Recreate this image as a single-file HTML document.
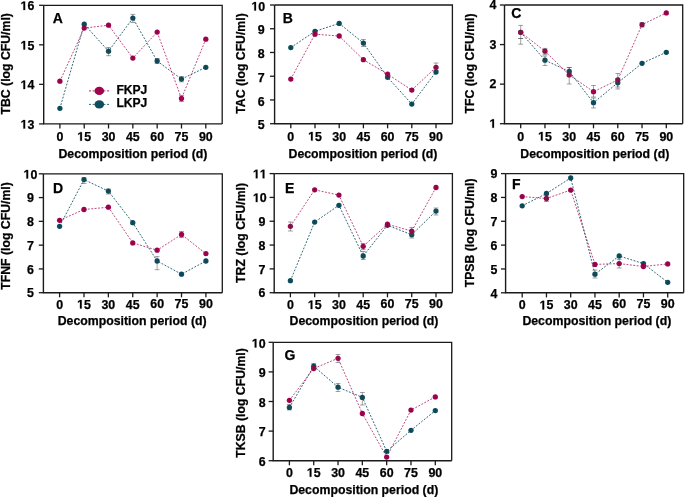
<!DOCTYPE html>
<html><head><meta charset="utf-8"><style>
html,body{margin:0;padding:0;background:#fff;}
body{width:685px;height:497px;overflow:hidden;}
svg{display:block;will-change:transform;}
text{font-family:"Liberation Sans",sans-serif;font-weight:bold;fill:#000;stroke:#000;stroke-width:0.25px;}
.g{fill:#000;stroke:#000;stroke-width:40;}
</style></head><body>
<svg width="685" height="497" viewBox="0 0 685 497">
<rect width="685" height="497" fill="#fff"/>
<g>
<path d="M43.7 5.3H222.2V123.9" fill="none" stroke="#1a1a1a" stroke-width="1.3"/>
<path d="M43.7 5.3V123.9H222.2" fill="none" stroke="#1a1a1a" stroke-width="1.4"/>
<line x1="39.1" y1="123.9" x2="43.7" y2="123.9" stroke="#1a1a1a" stroke-width="1.3"/>
<text x="20.51" y="128.6" font-size="12.4"> 3</text>
<path class="g" transform="translate(20.51 128.6) scale(0.006055 -0.006055)" d="M478 0V1170L140 959V1180L493 1409H759V0Z"/>
<line x1="39.1" y1="84.37" x2="43.7" y2="84.37" stroke="#1a1a1a" stroke-width="1.3"/>
<text x="20.51" y="89.07" font-size="12.4"> 4</text>
<path class="g" transform="translate(20.51 89.07) scale(0.006055 -0.006055)" d="M478 0V1170L140 959V1180L493 1409H759V0Z"/>
<line x1="39.1" y1="44.83" x2="43.7" y2="44.83" stroke="#1a1a1a" stroke-width="1.3"/>
<text x="20.51" y="49.53" font-size="12.4"> 5</text>
<path class="g" transform="translate(20.51 49.53) scale(0.006055 -0.006055)" d="M478 0V1170L140 959V1180L493 1409H759V0Z"/>
<line x1="39.1" y1="5.3" x2="43.7" y2="5.3" stroke="#1a1a1a" stroke-width="1.3"/>
<text x="20.51" y="10" font-size="12.4"> 6</text>
<path class="g" transform="translate(20.51 10) scale(0.006055 -0.006055)" d="M478 0V1170L140 959V1180L493 1409H759V0Z"/>
<line x1="59.9" y1="123.9" x2="59.9" y2="128.5" stroke="#1a1a1a" stroke-width="1.3"/>
<text x="56.45" y="140.7" font-size="12.4">0</text>
<line x1="84.22" y1="123.9" x2="84.22" y2="128.5" stroke="#1a1a1a" stroke-width="1.3"/>
<text x="77.32" y="140.7" font-size="12.4"> 5</text>
<path class="g" transform="translate(77.32 140.7) scale(0.006055 -0.006055)" d="M478 0V1170L140 959V1180L493 1409H759V0Z"/>
<line x1="108.53" y1="123.9" x2="108.53" y2="128.5" stroke="#1a1a1a" stroke-width="1.3"/>
<text x="101.64" y="140.7" font-size="12.4">30</text>
<line x1="132.85" y1="123.9" x2="132.85" y2="128.5" stroke="#1a1a1a" stroke-width="1.3"/>
<text x="125.95" y="140.7" font-size="12.4">45</text>
<line x1="157.17" y1="123.9" x2="157.17" y2="128.5" stroke="#1a1a1a" stroke-width="1.3"/>
<text x="150.27" y="140.7" font-size="12.4">60</text>
<line x1="181.48" y1="123.9" x2="181.48" y2="128.5" stroke="#1a1a1a" stroke-width="1.3"/>
<text x="174.59" y="140.7" font-size="12.4">75</text>
<line x1="205.8" y1="123.9" x2="205.8" y2="128.5" stroke="#1a1a1a" stroke-width="1.3"/>
<text x="198.9" y="140.7" font-size="12.4">90</text>
<text x="132.95" y="157.6" font-size="12.3" text-anchor="middle">Decomposition period (d)</text>
<text transform="translate(9.7 63.8) rotate(-90)" font-size="12.25" text-anchor="middle">TBC (log CFU/ml)</text>
<text x="52.65" y="22.9" font-size="14.0">A</text>
<polyline points="59.9,108.3 84.22,24.2 108.53,51.2 132.85,18.1 157.17,61 181.48,79.1 205.8,67.3" fill="none" stroke="#0c4e5f" stroke-width="1" stroke-dasharray="1.9 1.5" opacity="0.85"/>
<polyline points="59.9,81.2 84.22,28.1 108.53,25.2 132.85,58.1 157.17,32.1 181.48,98.5 205.8,39.2" fill="none" stroke="#a1044f" stroke-width="1" stroke-dasharray="1.9 1.5" opacity="0.72"/>
<circle cx="59.9" cy="108.3" r="2.65" fill="#0c4e5f"/>
<circle cx="84.22" cy="24.2" r="2.65" fill="#0c4e5f"/>
<circle cx="108.53" cy="51.2" r="2.65" fill="#0c4e5f"/>
<circle cx="132.85" cy="18.1" r="2.65" fill="#0c4e5f"/>
<circle cx="157.17" cy="61" r="2.65" fill="#0c4e5f"/>
<circle cx="181.48" cy="79.1" r="2.65" fill="#0c4e5f"/>
<circle cx="205.8" cy="67.3" r="2.65" fill="#0c4e5f"/>
<circle cx="59.9" cy="81.2" r="2.65" fill="#a1044f"/>
<circle cx="84.22" cy="28.1" r="2.65" fill="#a1044f"/>
<circle cx="108.53" cy="25.2" r="2.65" fill="#a1044f"/>
<circle cx="132.85" cy="58.1" r="2.65" fill="#a1044f"/>
<circle cx="157.17" cy="32.1" r="2.65" fill="#a1044f"/>
<circle cx="181.48" cy="98.5" r="2.65" fill="#a1044f"/>
<circle cx="205.8" cy="39.2" r="2.65" fill="#a1044f"/>
<path d="M59.9 106V110.6M84.22 21.9V26.5M108.53 48.9V53.5M132.85 15.8V20.4M157.17 58.7V63.3M181.48 76.8V81.4M205.8 65V69.6M59.9 78.9V83.5M84.22 25.8V30.4M108.53 22.9V27.5M132.85 55.8V60.4M157.17 29.8V34.4M181.48 96.2V100.8M205.8 36.9V41.5" stroke="#000" stroke-width="0.7" opacity="0.22" fill="none"/>
<path d="M108.53 47.5V55.7M106.13 47.5H110.93M106.13 55.7H110.93" stroke="#444" stroke-width="0.9" fill="none" opacity="0.55"/>
<path d="M132.85 14.4V22.5M130.45 14.4H135.25M130.45 22.5H135.25" stroke="#444" stroke-width="0.9" fill="none" opacity="0.55"/>
<path d="M181.48 76.5V81.8M179.08 76.5H183.88M179.08 81.8H183.88" stroke="#444" stroke-width="0.9" fill="none" opacity="0.55"/>
<path d="M181.48 95.5V101.5M179.08 95.5H183.88M179.08 101.5H183.88" stroke="#444" stroke-width="0.9" fill="none" opacity="0.55"/>
<path d="M157.17 58.5V63.5M154.77 58.5H159.57M154.77 63.5H159.57" stroke="#444" stroke-width="0.9" fill="none" opacity="0.55"/>
<line x1="89" y1="90.9" x2="110" y2="90.9" stroke="#a1044f" stroke-width="1" stroke-dasharray="2 1.6" opacity="0.85"/>
<ellipse cx="99.3" cy="90.9" rx="4.8" ry="4.2" fill="#a1044f"/>
<text x="116.4" y="93.8" font-size="12.1">FKPJ</text>
<line x1="89" y1="104.4" x2="110" y2="104.4" stroke="#0c4e5f" stroke-width="1" stroke-dasharray="2 1.6" opacity="0.85"/>
<ellipse cx="99.3" cy="104.4" rx="4.8" ry="4.2" fill="#0c4e5f"/>
<text x="116.4" y="107.3" font-size="12.1">LKPJ</text>
</g>
<g>
<path d="M274.6 5H452.4V123.7" fill="none" stroke="#1a1a1a" stroke-width="1.3"/>
<path d="M274.6 5V123.7H452.4" fill="none" stroke="#1a1a1a" stroke-width="1.4"/>
<line x1="270" y1="123.7" x2="274.6" y2="123.7" stroke="#1a1a1a" stroke-width="1.3"/>
<text x="257.8" y="129.3" font-size="12.4">5</text>
<line x1="270" y1="99.96" x2="274.6" y2="99.96" stroke="#1a1a1a" stroke-width="1.3"/>
<text x="257.8" y="105.56" font-size="12.4">6</text>
<line x1="270" y1="76.22" x2="274.6" y2="76.22" stroke="#1a1a1a" stroke-width="1.3"/>
<text x="257.8" y="81.82" font-size="12.4">7</text>
<line x1="270" y1="52.48" x2="274.6" y2="52.48" stroke="#1a1a1a" stroke-width="1.3"/>
<text x="257.8" y="58.08" font-size="12.4">8</text>
<line x1="270" y1="28.74" x2="274.6" y2="28.74" stroke="#1a1a1a" stroke-width="1.3"/>
<text x="257.8" y="34.34" font-size="12.4">9</text>
<line x1="270" y1="5" x2="274.6" y2="5" stroke="#1a1a1a" stroke-width="1.3"/>
<text x="251.41" y="10.6" font-size="12.4"> 0</text>
<path class="g" transform="translate(251.41 10.6) scale(0.006055 -0.006055)" d="M478 0V1170L140 959V1180L493 1409H759V0Z"/>
<line x1="290.8" y1="123.7" x2="290.8" y2="128.3" stroke="#1a1a1a" stroke-width="1.3"/>
<text x="287.35" y="140.5" font-size="12.4">0</text>
<line x1="315" y1="123.7" x2="315" y2="128.3" stroke="#1a1a1a" stroke-width="1.3"/>
<text x="308.1" y="140.5" font-size="12.4"> 5</text>
<path class="g" transform="translate(308.1 140.5) scale(0.006055 -0.006055)" d="M478 0V1170L140 959V1180L493 1409H759V0Z"/>
<line x1="339.2" y1="123.7" x2="339.2" y2="128.3" stroke="#1a1a1a" stroke-width="1.3"/>
<text x="332.3" y="140.5" font-size="12.4">30</text>
<line x1="363.4" y1="123.7" x2="363.4" y2="128.3" stroke="#1a1a1a" stroke-width="1.3"/>
<text x="356.5" y="140.5" font-size="12.4">45</text>
<line x1="387.6" y1="123.7" x2="387.6" y2="128.3" stroke="#1a1a1a" stroke-width="1.3"/>
<text x="380.7" y="140.5" font-size="12.4">60</text>
<line x1="411.8" y1="123.7" x2="411.8" y2="128.3" stroke="#1a1a1a" stroke-width="1.3"/>
<text x="404.9" y="140.5" font-size="12.4">75</text>
<line x1="436" y1="123.7" x2="436" y2="128.3" stroke="#1a1a1a" stroke-width="1.3"/>
<text x="429.1" y="140.5" font-size="12.4">90</text>
<text x="363" y="157.5" font-size="12.3" text-anchor="middle">Decomposition period (d)</text>
<text transform="translate(244.8 63.5) rotate(-90)" font-size="12.25" text-anchor="middle">TAC (log CFU/ml)</text>
<text x="282.86" y="22.7" font-size="14.0">B</text>
<polyline points="290.8,47.6 315,31.3 339.2,23.4 363.4,43.1 387.6,77.3 411.8,104.1 436,72" fill="none" stroke="#0c4e5f" stroke-width="1" stroke-dasharray="1.9 1.5" opacity="0.85"/>
<polyline points="290.8,79.1 315,34.2 339.2,36 363.4,59.7 387.6,74.1 411.8,90.1 436,67.3" fill="none" stroke="#a1044f" stroke-width="1" stroke-dasharray="1.9 1.5" opacity="0.72"/>
<circle cx="290.8" cy="47.6" r="2.65" fill="#0c4e5f"/>
<circle cx="315" cy="31.3" r="2.65" fill="#0c4e5f"/>
<circle cx="339.2" cy="23.4" r="2.65" fill="#0c4e5f"/>
<circle cx="363.4" cy="43.1" r="2.65" fill="#0c4e5f"/>
<circle cx="387.6" cy="77.3" r="2.65" fill="#0c4e5f"/>
<circle cx="411.8" cy="104.1" r="2.65" fill="#0c4e5f"/>
<circle cx="436" cy="72" r="2.65" fill="#0c4e5f"/>
<circle cx="290.8" cy="79.1" r="2.65" fill="#a1044f"/>
<circle cx="315" cy="34.2" r="2.65" fill="#a1044f"/>
<circle cx="339.2" cy="36" r="2.65" fill="#a1044f"/>
<circle cx="363.4" cy="59.7" r="2.65" fill="#a1044f"/>
<circle cx="387.6" cy="74.1" r="2.65" fill="#a1044f"/>
<circle cx="411.8" cy="90.1" r="2.65" fill="#a1044f"/>
<circle cx="436" cy="67.3" r="2.65" fill="#a1044f"/>
<path d="M290.8 45.3V49.9M315 29V33.6M339.2 21.1V25.7M363.4 40.8V45.4M387.6 75V79.6M411.8 101.8V106.4M436 69.7V74.3M290.8 76.8V81.4M315 31.9V36.5M339.2 33.7V38.3M363.4 57.4V62M387.6 71.8V76.4M411.8 87.8V92.4M436 65V69.6" stroke="#000" stroke-width="0.7" opacity="0.22" fill="none"/>
<path d="M363.4 39.5V46.5M361 39.5H365.8M361 46.5H365.8" stroke="#444" stroke-width="0.9" fill="none" opacity="0.55"/>
<path d="M436 63V71M433.6 63H438.4M433.6 71H438.4" stroke="#444" stroke-width="0.9" fill="none" opacity="0.55"/>
</g>
<g>
<path d="M504.5 5H682.7V123.7" fill="none" stroke="#1a1a1a" stroke-width="1.3"/>
<path d="M504.5 5V123.7H682.7" fill="none" stroke="#1a1a1a" stroke-width="1.4"/>
<line x1="499.9" y1="123.7" x2="504.5" y2="123.7" stroke="#1a1a1a" stroke-width="1.3"/>
<path class="g" transform="translate(489.4 127.8) scale(0.006055 -0.006055)" d="M478 0V1170L140 959V1180L493 1409H759V0Z"/>
<line x1="499.9" y1="84.13" x2="504.5" y2="84.13" stroke="#1a1a1a" stroke-width="1.3"/>
<text x="489.4" y="88.23" font-size="12.4">2</text>
<line x1="499.9" y1="44.57" x2="504.5" y2="44.57" stroke="#1a1a1a" stroke-width="1.3"/>
<text x="489.4" y="48.67" font-size="12.4">3</text>
<line x1="499.9" y1="5" x2="504.5" y2="5" stroke="#1a1a1a" stroke-width="1.3"/>
<text x="489.4" y="9.1" font-size="12.4">4</text>
<line x1="520.7" y1="123.7" x2="520.7" y2="128.3" stroke="#1a1a1a" stroke-width="1.3"/>
<text x="517.25" y="140.5" font-size="12.4">0</text>
<line x1="544.97" y1="123.7" x2="544.97" y2="128.3" stroke="#1a1a1a" stroke-width="1.3"/>
<text x="538.07" y="140.5" font-size="12.4"> 5</text>
<path class="g" transform="translate(538.07 140.5) scale(0.006055 -0.006055)" d="M478 0V1170L140 959V1180L493 1409H759V0Z"/>
<line x1="569.23" y1="123.7" x2="569.23" y2="128.3" stroke="#1a1a1a" stroke-width="1.3"/>
<text x="562.34" y="140.5" font-size="12.4">30</text>
<line x1="593.5" y1="123.7" x2="593.5" y2="128.3" stroke="#1a1a1a" stroke-width="1.3"/>
<text x="586.6" y="140.5" font-size="12.4">45</text>
<line x1="617.77" y1="123.7" x2="617.77" y2="128.3" stroke="#1a1a1a" stroke-width="1.3"/>
<text x="610.87" y="140.5" font-size="12.4">60</text>
<line x1="642.03" y1="123.7" x2="642.03" y2="128.3" stroke="#1a1a1a" stroke-width="1.3"/>
<text x="635.14" y="140.5" font-size="12.4">75</text>
<line x1="666.3" y1="123.7" x2="666.3" y2="128.3" stroke="#1a1a1a" stroke-width="1.3"/>
<text x="659.4" y="140.5" font-size="12.4">90</text>
<text x="594.8" y="158.1" font-size="12.3" text-anchor="middle">Decomposition period (d)</text>
<text transform="translate(474.1 63.5) rotate(-90)" font-size="12.25" text-anchor="middle">TFC (log CFU/ml)</text>
<text x="511.33" y="17.85" font-size="14.0">C</text>
<polyline points="520.7,32.3 544.97,60.2 569.23,71.5 593.5,102.7 617.77,82.8 642.03,63.3 666.3,52.3" fill="none" stroke="#0c4e5f" stroke-width="1" stroke-dasharray="1.9 1.5" opacity="0.85"/>
<polyline points="520.7,32.3 544.97,51.2 569.23,74.9 593.5,91.7 617.77,79.9 642.03,24.7 666.3,12.9" fill="none" stroke="#a1044f" stroke-width="1" stroke-dasharray="1.9 1.5" opacity="0.72"/>
<circle cx="520.7" cy="32.3" r="2.65" fill="#0c4e5f"/>
<circle cx="544.97" cy="60.2" r="2.65" fill="#0c4e5f"/>
<circle cx="569.23" cy="71.5" r="2.65" fill="#0c4e5f"/>
<circle cx="593.5" cy="102.7" r="2.65" fill="#0c4e5f"/>
<circle cx="617.77" cy="82.8" r="2.65" fill="#0c4e5f"/>
<circle cx="642.03" cy="63.3" r="2.65" fill="#0c4e5f"/>
<circle cx="666.3" cy="52.3" r="2.65" fill="#0c4e5f"/>
<circle cx="520.7" cy="32.3" r="2.65" fill="#a1044f"/>
<circle cx="544.97" cy="51.2" r="2.65" fill="#a1044f"/>
<circle cx="569.23" cy="74.9" r="2.65" fill="#a1044f"/>
<circle cx="593.5" cy="91.7" r="2.65" fill="#a1044f"/>
<circle cx="617.77" cy="79.9" r="2.65" fill="#a1044f"/>
<circle cx="642.03" cy="24.7" r="2.65" fill="#a1044f"/>
<circle cx="666.3" cy="12.9" r="2.65" fill="#a1044f"/>
<path d="M520.7 30V34.6M544.97 57.9V62.5M569.23 69.2V73.8M593.5 100.4V105M617.77 80.5V85.1M642.03 61V65.6M666.3 50V54.6M520.7 30V34.6M544.97 48.9V53.5M569.23 72.6V77.2M593.5 89.4V94M617.77 77.6V82.2M642.03 22.4V27M666.3 10.6V15.2" stroke="#000" stroke-width="0.7" opacity="0.22" fill="none"/>
<path d="M520.7 25.4V44.2M518.3 25.4H523.1M518.3 44.2H523.1" stroke="#444" stroke-width="0.9" fill="none" opacity="0.55"/>
<path d="M520.7 38.5V38.5M518.3 38.5H523.1M518.3 38.5H523.1" stroke="#444" stroke-width="0.9" fill="none" opacity="0.55"/>
<path d="M544.97 48.4V54.7M542.57 48.4H547.37M542.57 54.7H547.37" stroke="#444" stroke-width="0.9" fill="none" opacity="0.55"/>
<path d="M544.97 56V65.5M542.57 56H547.37M542.57 65.5H547.37" stroke="#444" stroke-width="0.9" fill="none" opacity="0.55"/>
<path d="M569.23 67.5V84M566.83 67.5H571.63M566.83 84H571.63" stroke="#444" stroke-width="0.9" fill="none" opacity="0.55"/>
<path d="M569.23 67.5V76M566.83 67.5H571.63M566.83 76H571.63" stroke="#444" stroke-width="0.9" fill="none" opacity="0.55"/>
<path d="M593.5 85.5V97M591.1 85.5H595.9M591.1 97H595.9" stroke="#444" stroke-width="0.9" fill="none" opacity="0.55"/>
<path d="M593.5 98V108M591.1 98H595.9M591.1 108H595.9" stroke="#444" stroke-width="0.9" fill="none" opacity="0.55"/>
<path d="M617.77 73.5V87M615.37 73.5H620.17M615.37 87H620.17" stroke="#444" stroke-width="0.9" fill="none" opacity="0.55"/>
<path d="M617.77 78.5V89M615.37 78.5H620.17M615.37 89H620.17" stroke="#444" stroke-width="0.9" fill="none" opacity="0.55"/>
<path d="M642.03 22.5V27M639.63 22.5H644.43M639.63 27H644.43" stroke="#444" stroke-width="0.9" fill="none" opacity="0.55"/>
</g>
<g>
<path d="M43.4 173.8H222.3V292.7" fill="none" stroke="#1a1a1a" stroke-width="1.3"/>
<path d="M43.4 173.8V292.7H222.3" fill="none" stroke="#1a1a1a" stroke-width="1.4"/>
<line x1="38.8" y1="292.7" x2="43.4" y2="292.7" stroke="#1a1a1a" stroke-width="1.3"/>
<text x="27.1" y="297.4" font-size="12.4">5</text>
<line x1="38.8" y1="268.92" x2="43.4" y2="268.92" stroke="#1a1a1a" stroke-width="1.3"/>
<text x="27.1" y="273.62" font-size="12.4">6</text>
<line x1="38.8" y1="245.14" x2="43.4" y2="245.14" stroke="#1a1a1a" stroke-width="1.3"/>
<text x="27.1" y="249.84" font-size="12.4">7</text>
<line x1="38.8" y1="221.36" x2="43.4" y2="221.36" stroke="#1a1a1a" stroke-width="1.3"/>
<text x="27.1" y="226.06" font-size="12.4">8</text>
<line x1="38.8" y1="197.58" x2="43.4" y2="197.58" stroke="#1a1a1a" stroke-width="1.3"/>
<text x="27.1" y="202.28" font-size="12.4">9</text>
<line x1="38.8" y1="173.8" x2="43.4" y2="173.8" stroke="#1a1a1a" stroke-width="1.3"/>
<text x="23.51" y="178.5" font-size="12.4"> 0</text>
<path class="g" transform="translate(23.51 178.5) scale(0.006055 -0.006055)" d="M478 0V1170L140 959V1180L493 1409H759V0Z"/>
<line x1="59.6" y1="292.7" x2="59.6" y2="297.3" stroke="#1a1a1a" stroke-width="1.3"/>
<text x="56.15" y="308.5" font-size="12.4">0</text>
<line x1="83.98" y1="292.7" x2="83.98" y2="297.3" stroke="#1a1a1a" stroke-width="1.3"/>
<text x="77.09" y="308.5" font-size="12.4"> 5</text>
<path class="g" transform="translate(77.09 308.5) scale(0.006055 -0.006055)" d="M478 0V1170L140 959V1180L493 1409H759V0Z"/>
<line x1="108.37" y1="292.7" x2="108.37" y2="297.3" stroke="#1a1a1a" stroke-width="1.3"/>
<text x="101.47" y="308.5" font-size="12.4">30</text>
<line x1="132.75" y1="292.7" x2="132.75" y2="297.3" stroke="#1a1a1a" stroke-width="1.3"/>
<text x="125.85" y="308.5" font-size="12.4">45</text>
<line x1="157.13" y1="292.7" x2="157.13" y2="297.3" stroke="#1a1a1a" stroke-width="1.3"/>
<text x="150.24" y="307.8" font-size="12.4">60</text>
<line x1="181.52" y1="292.7" x2="181.52" y2="297.3" stroke="#1a1a1a" stroke-width="1.3"/>
<text x="174.62" y="307.8" font-size="12.4">75</text>
<line x1="205.9" y1="292.7" x2="205.9" y2="297.3" stroke="#1a1a1a" stroke-width="1.3"/>
<text x="199" y="307.8" font-size="12.4">90</text>
<text x="132.15" y="324.6" font-size="12.3" text-anchor="middle">Decomposition period (d)</text>
<text transform="translate(10 236) rotate(-90)" font-size="12.25" text-anchor="middle">TFNF (log CFU/ml)</text>
<text x="53.06" y="192.7" font-size="14.0">D</text>
<polyline points="59.6,226.3 83.98,179.6 108.37,191.1 132.75,222.7 157.13,261 181.52,274.2 205.9,261" fill="none" stroke="#0c4e5f" stroke-width="1" stroke-dasharray="1.9 1.5" opacity="0.85"/>
<polyline points="59.6,220.3 83.98,209.5 108.37,207.2 132.75,242.9 157.13,250.2 181.52,234.5 205.9,253.7" fill="none" stroke="#a1044f" stroke-width="1" stroke-dasharray="1.9 1.5" opacity="0.72"/>
<circle cx="59.6" cy="226.3" r="2.65" fill="#0c4e5f"/>
<circle cx="83.98" cy="179.6" r="2.65" fill="#0c4e5f"/>
<circle cx="108.37" cy="191.1" r="2.65" fill="#0c4e5f"/>
<circle cx="132.75" cy="222.7" r="2.65" fill="#0c4e5f"/>
<circle cx="157.13" cy="261" r="2.65" fill="#0c4e5f"/>
<circle cx="181.52" cy="274.2" r="2.65" fill="#0c4e5f"/>
<circle cx="205.9" cy="261" r="2.65" fill="#0c4e5f"/>
<circle cx="59.6" cy="220.3" r="2.65" fill="#a1044f"/>
<circle cx="83.98" cy="209.5" r="2.65" fill="#a1044f"/>
<circle cx="108.37" cy="207.2" r="2.65" fill="#a1044f"/>
<circle cx="132.75" cy="242.9" r="2.65" fill="#a1044f"/>
<circle cx="157.13" cy="250.2" r="2.65" fill="#a1044f"/>
<circle cx="181.52" cy="234.5" r="2.65" fill="#a1044f"/>
<circle cx="205.9" cy="253.7" r="2.65" fill="#a1044f"/>
<path d="M59.6 224V228.6M83.98 177.3V181.9M108.37 188.8V193.4M132.75 220.4V225M157.13 258.7V263.3M181.52 271.9V276.5M205.9 258.7V263.3M59.6 218V222.6M83.98 207.2V211.8M108.37 204.9V209.5M132.75 240.6V245.2M157.13 247.9V252.5M181.52 232.2V236.8M205.9 251.4V256" stroke="#000" stroke-width="0.7" opacity="0.22" fill="none"/>
<path d="M83.98 177.5V183.5M81.58 177.5H86.38M81.58 183.5H86.38" stroke="#444" stroke-width="0.9" fill="none" opacity="0.55"/>
<path d="M157.13 256.6V269.7M154.73 256.6H159.53M154.73 269.7H159.53" stroke="#444" stroke-width="0.9" fill="none" opacity="0.55"/>
<path d="M181.52 231.5V237.5M179.12 231.5H183.92M179.12 237.5H183.92" stroke="#444" stroke-width="0.9" fill="none" opacity="0.55"/>
<path d="M108.37 189V194M105.97 189H110.77M105.97 194H110.77" stroke="#444" stroke-width="0.9" fill="none" opacity="0.55"/>
</g>
<g>
<path d="M274.2 173.6H452.4V292.7" fill="none" stroke="#1a1a1a" stroke-width="1.3"/>
<path d="M274.2 173.6V292.7H452.4" fill="none" stroke="#1a1a1a" stroke-width="1.4"/>
<line x1="269.6" y1="292.7" x2="274.2" y2="292.7" stroke="#1a1a1a" stroke-width="1.3"/>
<text x="258.4" y="297.4" font-size="12.4">6</text>
<line x1="269.6" y1="268.88" x2="274.2" y2="268.88" stroke="#1a1a1a" stroke-width="1.3"/>
<text x="258.4" y="273.58" font-size="12.4">7</text>
<line x1="269.6" y1="245.06" x2="274.2" y2="245.06" stroke="#1a1a1a" stroke-width="1.3"/>
<text x="258.4" y="249.76" font-size="12.4">8</text>
<line x1="269.6" y1="221.24" x2="274.2" y2="221.24" stroke="#1a1a1a" stroke-width="1.3"/>
<text x="258.4" y="225.94" font-size="12.4">9</text>
<line x1="269.6" y1="197.42" x2="274.2" y2="197.42" stroke="#1a1a1a" stroke-width="1.3"/>
<text x="252.91" y="202.12" font-size="12.4"> 0</text>
<path class="g" transform="translate(252.91 202.12) scale(0.006055 -0.006055)" d="M478 0V1170L140 959V1180L493 1409H759V0Z"/>
<line x1="269.6" y1="173.6" x2="274.2" y2="173.6" stroke="#1a1a1a" stroke-width="1.3"/>
<path class="g" transform="translate(252.91 178.3) scale(0.006055 -0.006055)" d="M478 0V1170L140 959V1180L493 1409H759V0Z"/>
<path class="g" transform="translate(259.8 178.3) scale(0.006055 -0.006055)" d="M478 0V1170L140 959V1180L493 1409H759V0Z"/>
<line x1="290.4" y1="292.7" x2="290.4" y2="297.3" stroke="#1a1a1a" stroke-width="1.3"/>
<text x="286.95" y="309.1" font-size="12.4">0</text>
<line x1="314.67" y1="292.7" x2="314.67" y2="297.3" stroke="#1a1a1a" stroke-width="1.3"/>
<text x="307.77" y="309.1" font-size="12.4"> 5</text>
<path class="g" transform="translate(307.77 309.1) scale(0.006055 -0.006055)" d="M478 0V1170L140 959V1180L493 1409H759V0Z"/>
<line x1="338.93" y1="292.7" x2="338.93" y2="297.3" stroke="#1a1a1a" stroke-width="1.3"/>
<text x="332.04" y="309.1" font-size="12.4">30</text>
<line x1="363.2" y1="292.7" x2="363.2" y2="297.3" stroke="#1a1a1a" stroke-width="1.3"/>
<text x="356.3" y="309.1" font-size="12.4">45</text>
<line x1="387.47" y1="292.7" x2="387.47" y2="297.3" stroke="#1a1a1a" stroke-width="1.3"/>
<text x="380.57" y="307.8" font-size="12.4">60</text>
<line x1="411.73" y1="292.7" x2="411.73" y2="297.3" stroke="#1a1a1a" stroke-width="1.3"/>
<text x="404.84" y="307.8" font-size="12.4">75</text>
<line x1="436" y1="292.7" x2="436" y2="297.3" stroke="#1a1a1a" stroke-width="1.3"/>
<text x="429.1" y="307.8" font-size="12.4">90</text>
<text x="364" y="324.5" font-size="12.3" text-anchor="middle">Decomposition period (d)</text>
<text transform="translate(244.9 232.9) rotate(-90)" font-size="12.25" text-anchor="middle">TRZ (log CFU/ml)</text>
<text x="285.06" y="192.9" font-size="14.0">E</text>
<polyline points="290.4,280.7 314.67,222.1 338.93,205.3 363.2,256 387.47,225.3 411.73,234.7 436,211.1" fill="none" stroke="#0c4e5f" stroke-width="1" stroke-dasharray="1.9 1.5" opacity="0.85"/>
<polyline points="290.4,226.3 314.67,189.8 338.93,195.1 363.2,246.3 387.47,224.2 411.73,231.1 436,187.5" fill="none" stroke="#a1044f" stroke-width="1" stroke-dasharray="1.9 1.5" opacity="0.72"/>
<circle cx="290.4" cy="280.7" r="2.65" fill="#0c4e5f"/>
<circle cx="314.67" cy="222.1" r="2.65" fill="#0c4e5f"/>
<circle cx="338.93" cy="205.3" r="2.65" fill="#0c4e5f"/>
<circle cx="363.2" cy="256" r="2.65" fill="#0c4e5f"/>
<circle cx="387.47" cy="225.3" r="2.65" fill="#0c4e5f"/>
<circle cx="411.73" cy="234.7" r="2.65" fill="#0c4e5f"/>
<circle cx="436" cy="211.1" r="2.65" fill="#0c4e5f"/>
<circle cx="290.4" cy="226.3" r="2.65" fill="#a1044f"/>
<circle cx="314.67" cy="189.8" r="2.65" fill="#a1044f"/>
<circle cx="338.93" cy="195.1" r="2.65" fill="#a1044f"/>
<circle cx="363.2" cy="246.3" r="2.65" fill="#a1044f"/>
<circle cx="387.47" cy="224.2" r="2.65" fill="#a1044f"/>
<circle cx="411.73" cy="231.1" r="2.65" fill="#a1044f"/>
<circle cx="436" cy="187.5" r="2.65" fill="#a1044f"/>
<path d="M290.4 278.4V283M314.67 219.8V224.4M338.93 203V207.6M363.2 253.7V258.3M387.47 223V227.6M411.73 232.4V237M436 208.8V213.4M290.4 224V228.6M314.67 187.5V192.1M338.93 192.8V197.4M363.2 244V248.6M387.47 221.9V226.5M411.73 228.8V233.4M436 185.2V189.8" stroke="#000" stroke-width="0.7" opacity="0.22" fill="none"/>
<path d="M290.4 222V231M288 222H292.8M288 231H292.8" stroke="#444" stroke-width="0.9" fill="none" opacity="0.55"/>
<path d="M363.2 243.5V249.5M360.8 243.5H365.6M360.8 249.5H365.6" stroke="#444" stroke-width="0.9" fill="none" opacity="0.55"/>
<path d="M363.2 251.5V259.5M360.8 251.5H365.6M360.8 259.5H365.6" stroke="#444" stroke-width="0.9" fill="none" opacity="0.55"/>
<path d="M411.73 227.5V234.5M409.33 227.5H414.13M409.33 234.5H414.13" stroke="#444" stroke-width="0.9" fill="none" opacity="0.55"/>
<path d="M411.73 231V238M409.33 231H414.13M409.33 238H414.13" stroke="#444" stroke-width="0.9" fill="none" opacity="0.55"/>
<path d="M436 208V215M433.6 208H438.4M433.6 215H438.4" stroke="#444" stroke-width="0.9" fill="none" opacity="0.55"/>
</g>
<g>
<path d="M505.6 173.6H683.7V292.8" fill="none" stroke="#1a1a1a" stroke-width="1.3"/>
<path d="M505.6 173.6V292.8H683.7" fill="none" stroke="#1a1a1a" stroke-width="1.4"/>
<line x1="501" y1="292.8" x2="505.6" y2="292.8" stroke="#1a1a1a" stroke-width="1.3"/>
<text x="490.4" y="297.5" font-size="12.4">4</text>
<line x1="501" y1="268.96" x2="505.6" y2="268.96" stroke="#1a1a1a" stroke-width="1.3"/>
<text x="490.4" y="273.66" font-size="12.4">5</text>
<line x1="501" y1="245.12" x2="505.6" y2="245.12" stroke="#1a1a1a" stroke-width="1.3"/>
<text x="490.4" y="249.82" font-size="12.4">6</text>
<line x1="501" y1="221.28" x2="505.6" y2="221.28" stroke="#1a1a1a" stroke-width="1.3"/>
<text x="490.4" y="225.98" font-size="12.4">7</text>
<line x1="501" y1="197.44" x2="505.6" y2="197.44" stroke="#1a1a1a" stroke-width="1.3"/>
<text x="490.4" y="202.14" font-size="12.4">8</text>
<line x1="501" y1="173.6" x2="505.6" y2="173.6" stroke="#1a1a1a" stroke-width="1.3"/>
<text x="490.4" y="178.3" font-size="12.4">9</text>
<line x1="522.2" y1="292.8" x2="522.2" y2="297.4" stroke="#1a1a1a" stroke-width="1.3"/>
<text x="518.75" y="309.4" font-size="12.4">0</text>
<line x1="546.45" y1="292.8" x2="546.45" y2="297.4" stroke="#1a1a1a" stroke-width="1.3"/>
<text x="539.55" y="309.4" font-size="12.4"> 5</text>
<path class="g" transform="translate(539.55 309.4) scale(0.006055 -0.006055)" d="M478 0V1170L140 959V1180L493 1409H759V0Z"/>
<line x1="570.7" y1="292.8" x2="570.7" y2="297.4" stroke="#1a1a1a" stroke-width="1.3"/>
<text x="563.8" y="309.4" font-size="12.4">30</text>
<line x1="594.95" y1="292.8" x2="594.95" y2="297.4" stroke="#1a1a1a" stroke-width="1.3"/>
<text x="588.05" y="309.4" font-size="12.4">45</text>
<line x1="619.2" y1="292.8" x2="619.2" y2="297.4" stroke="#1a1a1a" stroke-width="1.3"/>
<text x="612.3" y="307.9" font-size="12.4">60</text>
<line x1="643.45" y1="292.8" x2="643.45" y2="297.4" stroke="#1a1a1a" stroke-width="1.3"/>
<text x="636.55" y="307.9" font-size="12.4">75</text>
<line x1="667.7" y1="292.8" x2="667.7" y2="297.4" stroke="#1a1a1a" stroke-width="1.3"/>
<text x="660.8" y="307.9" font-size="12.4">90</text>
<text x="596.85" y="324.8" font-size="12.3" text-anchor="middle">Decomposition period (d)</text>
<text transform="translate(474.1 232.9) rotate(-90)" font-size="12.25" text-anchor="middle">TPSB (log CFU/ml)</text>
<text x="512.06" y="189" font-size="14.0">F</text>
<polyline points="522.2,205.8 546.45,193.5 570.7,178 594.95,274.2 619.2,256 643.45,263.6 667.7,282.3" fill="none" stroke="#0c4e5f" stroke-width="1" stroke-dasharray="1.9 1.5" opacity="0.85"/>
<polyline points="522.2,196.6 546.45,198.5 570.7,190.1 594.95,264.4 619.2,263.6 643.45,266.5 667.7,263.9" fill="none" stroke="#a1044f" stroke-width="1" stroke-dasharray="1.9 1.5" opacity="0.72"/>
<circle cx="522.2" cy="205.8" r="2.65" fill="#0c4e5f"/>
<circle cx="546.45" cy="193.5" r="2.65" fill="#0c4e5f"/>
<circle cx="570.7" cy="178" r="2.65" fill="#0c4e5f"/>
<circle cx="594.95" cy="274.2" r="2.65" fill="#0c4e5f"/>
<circle cx="619.2" cy="256" r="2.65" fill="#0c4e5f"/>
<circle cx="643.45" cy="263.6" r="2.65" fill="#0c4e5f"/>
<circle cx="667.7" cy="282.3" r="2.65" fill="#0c4e5f"/>
<circle cx="522.2" cy="196.6" r="2.65" fill="#a1044f"/>
<circle cx="546.45" cy="198.5" r="2.65" fill="#a1044f"/>
<circle cx="570.7" cy="190.1" r="2.65" fill="#a1044f"/>
<circle cx="594.95" cy="264.4" r="2.65" fill="#a1044f"/>
<circle cx="619.2" cy="263.6" r="2.65" fill="#a1044f"/>
<circle cx="643.45" cy="266.5" r="2.65" fill="#a1044f"/>
<circle cx="667.7" cy="263.9" r="2.65" fill="#a1044f"/>
<path d="M522.2 203.5V208.1M546.45 191.2V195.8M570.7 175.7V180.3M594.95 271.9V276.5M619.2 253.7V258.3M643.45 261.3V265.9M667.7 280V284.6M522.2 194.3V198.9M546.45 196.2V200.8M570.7 187.8V192.4M594.95 262.1V266.7M619.2 261.3V265.9M643.45 264.2V268.8M667.7 261.6V266.2" stroke="#000" stroke-width="0.7" opacity="0.22" fill="none"/>
<path d="M546.45 195V201.5M544.05 195H548.85M544.05 201.5H548.85" stroke="#444" stroke-width="0.9" fill="none" opacity="0.55"/>
<path d="M619.2 259.5V268M616.8 259.5H621.6M616.8 268H621.6" stroke="#444" stroke-width="0.9" fill="none" opacity="0.55"/>
<path d="M594.95 270V278M592.55 270H597.35M592.55 278H597.35" stroke="#444" stroke-width="0.9" fill="none" opacity="0.55"/>
</g>
<g>
<path d="M273.2 342.3H451.7V460.7" fill="none" stroke="#1a1a1a" stroke-width="1.3"/>
<path d="M273.2 342.3V460.7H451.7" fill="none" stroke="#1a1a1a" stroke-width="1.4"/>
<line x1="268.6" y1="460.7" x2="273.2" y2="460.7" stroke="#1a1a1a" stroke-width="1.3"/>
<text x="258.7" y="465.9" font-size="12.4">6</text>
<line x1="268.6" y1="431.1" x2="273.2" y2="431.1" stroke="#1a1a1a" stroke-width="1.3"/>
<text x="258.7" y="436.3" font-size="12.4">7</text>
<line x1="268.6" y1="401.5" x2="273.2" y2="401.5" stroke="#1a1a1a" stroke-width="1.3"/>
<text x="258.7" y="406.7" font-size="12.4">8</text>
<line x1="268.6" y1="371.9" x2="273.2" y2="371.9" stroke="#1a1a1a" stroke-width="1.3"/>
<text x="258.7" y="377.1" font-size="12.4">9</text>
<line x1="268.6" y1="342.3" x2="273.2" y2="342.3" stroke="#1a1a1a" stroke-width="1.3"/>
<text x="251.81" y="347.5" font-size="12.4"> 0</text>
<path class="g" transform="translate(251.81 347.5) scale(0.006055 -0.006055)" d="M478 0V1170L140 959V1180L493 1409H759V0Z"/>
<line x1="289.4" y1="460.7" x2="289.4" y2="465.3" stroke="#1a1a1a" stroke-width="1.3"/>
<text x="285.95" y="476.8" font-size="12.4">0</text>
<line x1="313.72" y1="460.7" x2="313.72" y2="465.3" stroke="#1a1a1a" stroke-width="1.3"/>
<text x="306.82" y="476.8" font-size="12.4"> 5</text>
<path class="g" transform="translate(306.82 476.8) scale(0.006055 -0.006055)" d="M478 0V1170L140 959V1180L493 1409H759V0Z"/>
<line x1="338.03" y1="460.7" x2="338.03" y2="465.3" stroke="#1a1a1a" stroke-width="1.3"/>
<text x="331.14" y="476.8" font-size="12.4">30</text>
<line x1="362.35" y1="460.7" x2="362.35" y2="465.3" stroke="#1a1a1a" stroke-width="1.3"/>
<text x="355.45" y="476.8" font-size="12.4">45</text>
<line x1="386.67" y1="460.7" x2="386.67" y2="465.3" stroke="#1a1a1a" stroke-width="1.3"/>
<text x="379.77" y="476.8" font-size="12.4">60</text>
<line x1="410.98" y1="460.7" x2="410.98" y2="465.3" stroke="#1a1a1a" stroke-width="1.3"/>
<text x="404.09" y="476.8" font-size="12.4">75</text>
<line x1="435.3" y1="460.7" x2="435.3" y2="465.3" stroke="#1a1a1a" stroke-width="1.3"/>
<text x="428.4" y="476.8" font-size="12.4">90</text>
<text x="363.85" y="494.2" font-size="12.3" text-anchor="middle">Decomposition period (d)</text>
<text transform="translate(245.1 403) rotate(-90)" font-size="12.25" text-anchor="middle">TKSB (log CFU/ml)</text>
<text x="284.43" y="359.55" font-size="14.0">G</text>
<polyline points="289.4,407.4 313.72,366.2 338.03,387.2 362.35,397.4 386.67,451.3 410.98,430.3 435.3,410.6" fill="none" stroke="#0c4e5f" stroke-width="1" stroke-dasharray="1.9 1.5" opacity="0.85"/>
<polyline points="289.4,400.3 313.72,368.5 338.03,358.3 362.35,413.5 386.67,457.1 410.98,410.1 435.3,396.9" fill="none" stroke="#a1044f" stroke-width="1" stroke-dasharray="1.9 1.5" opacity="0.72"/>
<circle cx="289.4" cy="407.4" r="2.65" fill="#0c4e5f"/>
<circle cx="313.72" cy="366.2" r="2.65" fill="#0c4e5f"/>
<circle cx="338.03" cy="387.2" r="2.65" fill="#0c4e5f"/>
<circle cx="362.35" cy="397.4" r="2.65" fill="#0c4e5f"/>
<circle cx="386.67" cy="451.3" r="2.65" fill="#0c4e5f"/>
<circle cx="410.98" cy="430.3" r="2.65" fill="#0c4e5f"/>
<circle cx="435.3" cy="410.6" r="2.65" fill="#0c4e5f"/>
<circle cx="289.4" cy="400.3" r="2.65" fill="#a1044f"/>
<circle cx="313.72" cy="368.5" r="2.65" fill="#a1044f"/>
<circle cx="338.03" cy="358.3" r="2.65" fill="#a1044f"/>
<circle cx="362.35" cy="413.5" r="2.65" fill="#a1044f"/>
<circle cx="386.67" cy="457.1" r="2.65" fill="#a1044f"/>
<circle cx="410.98" cy="410.1" r="2.65" fill="#a1044f"/>
<circle cx="435.3" cy="396.9" r="2.65" fill="#a1044f"/>
<path d="M289.4 405.1V409.7M313.72 363.9V368.5M338.03 384.9V389.5M362.35 395.1V399.7M386.67 449V453.6M410.98 428V432.6M435.3 408.3V412.9M289.4 398V402.6M313.72 366.2V370.8M338.03 356V360.6M362.35 411.2V415.8M386.67 454.8V459.4M410.98 407.8V412.4M435.3 394.6V399.2" stroke="#000" stroke-width="0.7" opacity="0.22" fill="none"/>
<path d="M338.03 354.5V362.5M335.63 354.5H340.43M335.63 362.5H340.43" stroke="#444" stroke-width="0.9" fill="none" opacity="0.55"/>
<path d="M338.03 383.5V391.5M335.63 383.5H340.43M335.63 391.5H340.43" stroke="#444" stroke-width="0.9" fill="none" opacity="0.55"/>
<path d="M362.35 392.5V405M359.95 392.5H364.75M359.95 405H364.75" stroke="#444" stroke-width="0.9" fill="none" opacity="0.55"/>
<path d="M313.72 363.5V369M311.32 363.5H316.12M311.32 369H316.12" stroke="#444" stroke-width="0.9" fill="none" opacity="0.55"/>
<path d="M289.4 404.5V410M287 404.5H291.8M287 410H291.8" stroke="#444" stroke-width="0.9" fill="none" opacity="0.55"/>
</g>
</svg>
</body></html>
